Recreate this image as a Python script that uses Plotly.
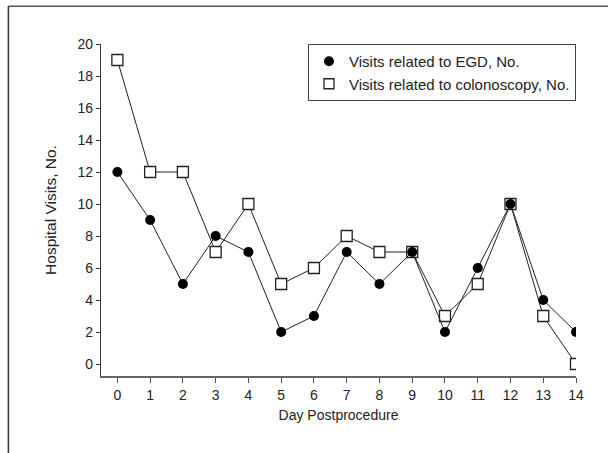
import plotly.graph_objects as go

days = list(range(15))
egd_visits = [12, 9, 5, 8, 7, 2, 3, 7, 5, 7, 2, 6, 10, 4, 2]
colon_visits = [19, 12, 12, 7, 10, 5, 6, 8, 7, 7, 3, 5, 10, 3, 0]
y_ticks = list(range(0, 21, 2))

FONT = "Liberation Sans, Arial, sans-serif"
INK = "#222222"

fig = go.Figure()
fig.add_trace(go.Scatter(x=days, y=colon_visits, mode="lines+markers",
                         line=dict(color=INK, width=1),
                         marker=dict(symbol="square", size=11, color="white",
                                     line=dict(color=INK, width=1.3)),
                         showlegend=False))
fig.add_trace(go.Scatter(x=days, y=egd_visits, mode="lines+markers",
                         line=dict(color=INK, width=1),
                         marker=dict(symbol="circle", size=10, color="black",
                                     line=dict(color="black", width=0)),
                         showlegend=False))
# legend-only entries (markers without line, as in the reference)
fig.add_trace(go.Scatter(x=[None], y=[None], mode="markers",
                         name="Visits related to EGD, No.",
                         marker=dict(symbol="circle", size=10, color="black")))
fig.add_trace(go.Scatter(x=[None], y=[None], mode="markers",
                         name="Visits related to colonoscopy, No.",
                         marker=dict(symbol="square", size=10, color="white",
                                     line=dict(color=INK, width=1.3))))

fig.update_layout(
    width=608, height=453,
    margin=dict(l=101, r=32, t=44, b=77),
    paper_bgcolor="white", plot_bgcolor="white",
    font=dict(family=FONT, size=14, color=INK),
    legend=dict(x=1, xanchor="right", y=1, yanchor="top",
                bordercolor="#444444", borderwidth=1, bgcolor="white",
                font=dict(size=15), tracegroupgap=0,
                itemwidth=30, itemsizing="trace"),
    xaxis=dict(range=[-0.5, 14], tickvals=days, showgrid=False, zeroline=False,
               showline=True, linecolor="#666666", linewidth=1.5,
               ticks="outside", ticklen=5, tickcolor="#555555",
               title=dict(text="Day Postprocedure", standoff=9, font=dict(size=14))),
    yaxis=dict(range=[-0.75, 20], tickvals=y_ticks, showgrid=False, zeroline=False,
               showline=True, linecolor="#333333", linewidth=1.2,
               ticks="outside", ticklen=4, tickcolor="#333333",
               title=dict(text="Hospital Visits, No.", standoff=17, font=dict(size=15.5))),
    shapes=[
        dict(type="line", xref="paper", yref="paper", x0=-0.195, x1=1.07,
             y0=1.114, y1=1.114, layer="above",
             line=dict(color="#555555", width=1.5)),
        dict(type="line", xref="paper", yref="paper", x0=-0.195, x1=-0.195,
             y0=1.114, y1=-0.24, layer="above",
             line=dict(color="#333333", width=1.5)),
    ],
)

fig.write_html("out.html", config={"displayModeBar": False},
               post_script="document.body.style.margin='0';")
